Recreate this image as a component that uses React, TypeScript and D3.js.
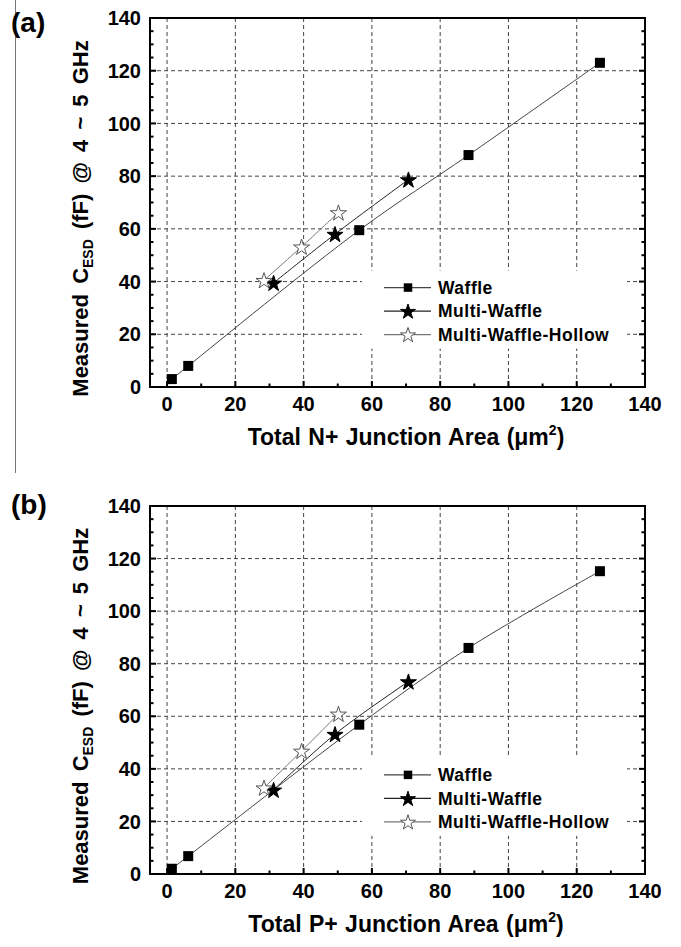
import React, { useEffect, useRef } from 'react';
import * as d3 from 'd3';

// junction area (um^2) for each structure, shared by both panels
const areaWaffle = [1.4, 6.2, 56.3, 88.3, 126.8];
const areaMulti = [31.2, 49.2, 70.7];
const areaHollow = [28.4, 39.4, 50.2];

// (a) N+ junction capacitance, fF
const capNWaffle = [3, 8, 59.5, 88, 123];
const capNMulti = [39.5, 58, 78.7];
const capNHollow = [40.5, 53.2, 66.2];

// (b) P+ junction capacitance, fF
const capPWaffle = [2, 6.8, 56.8, 86, 115.2];
const capPMulti = [32, 53.2, 73.2];
const capPHollow = [32.8, 46.8, 60.9];

const axisTicks = [0, 20, 40, 60, 80, 100, 120, 140];
const seriesNames = ['Waffle', 'Multi-Waffle', 'Multi-Waffle-Hollow'];

const FONT = "'Liberation Sans', Arial, sans-serif";

const App = () => {
    const ref = useRef<SVGSVGElement>(null);

    useEffect(() => {
        drawChart();
    }, []);

    const drawChart = () => {
        const svg = d3.select(ref.current);
        svg.selectAll('*').remove();

        // stray border line at the left of the scan
        svg.append('line')
            .attr('x1', 15.5).attr('x2', 15.5)
            .attr('y1', 0).attr('y2', 473)
            .attr('stroke', '#777').attr('stroke-width', 1);

        const panels = [
            { tag: '(a)', tagY: 32, top: 18, bottom: 387, label: 'Total N+ Junction Area (\u03bcm', ys: [capNWaffle, capNMulti, capNHollow] },
            { tag: '(b)', tagY: 514, top: 506, bottom: 874, label: 'Total P+ Junction Area (\u03bcm', ys: [capPWaffle, capPMulti, capPHollow] },
        ];

        panels.forEach(p => drawPanel(svg, p));
    };

    const drawPanel = (svg, p) => {
        const x = d3.scaleLinear().domain([-5, 140]).range([150, 645]);
        const y = d3.scaleLinear().domain([0, 140]).range([p.bottom, p.top]);
        const g = svg.append('g');
        const [x0, x1] = x.range();
        const [y0, y1] = [p.bottom, p.top];

        // grid
        g.selectAll('.vgrid')
            .data(axisTicks.filter(t => t < 140))
            .enter().append('line')
            .attr('x1', d => x(d)).attr('x2', d => x(d))
            .attr('y1', y1).attr('y2', y0)
            .attr('stroke', '#444').attr('stroke-width', 1)
            .attr('stroke-dasharray', '4,3');
        g.selectAll('.hgrid')
            .data(axisTicks.filter(t => t > 0 && t < 140))
            .enter().append('line')
            .attr('x1', x0).attr('x2', x1)
            .attr('y1', d => y(d)).attr('y2', d => y(d))
            .attr('stroke', '#444').attr('stroke-width', 1)
            .attr('stroke-dasharray', '4,3');

        // legend background hides the grid
        const ly = y(40) - 11;
        g.append('rect')
            .attr('x', 362).attr('y', ly)
            .attr('width', 265).attr('height', 78)
            .attr('fill', 'white');

        // ticks (inward on left, right, bottom)
        const yMinor = d3.range(0, 141, 5);
        const xMinor = d3.range(0, 141, 10);
        yMinor.forEach(t => {
            const len = t % 20 === 0 ? 6 : 3.5;
            g.append('line').attr('x1', x0).attr('x2', x0 + len)
                .attr('y1', y(t)).attr('y2', y(t)).attr('stroke', '#000').attr('stroke-width', 2);
            g.append('line').attr('x1', x1).attr('x2', x1 - len)
                .attr('y1', y(t)).attr('y2', y(t)).attr('stroke', '#000').attr('stroke-width', 2);
        });
        xMinor.forEach(t => {
            const len = t % 20 === 0 ? 6 : 3.5;
            g.append('line').attr('x1', x(t)).attr('x2', x(t))
                .attr('y1', y0).attr('y2', y0 - len).attr('stroke', '#000').attr('stroke-width', 2);
        });

        // frame
        g.append('rect')
            .attr('x', x0).attr('y', y1)
            .attr('width', x1 - x0).attr('height', y0 - y1)
            .attr('fill', 'none').attr('stroke', '#000').attr('stroke-width', 2);

        // tick labels
        g.selectAll('.ylab').data(axisTicks).enter().append('text')
            .attr('x', 141).attr('y', d => y(d)).attr('dy', '0.36em')
            .attr('text-anchor', 'end')
            .style('font', `bold 20px ${FONT}`)
            .text(d => d);
        g.selectAll('.xlab').data(axisTicks).enter().append('text')
            .attr('x', d => x(d)).attr('y', y0 + 24)
            .attr('text-anchor', 'middle')
            .style('font', `bold 20px ${FONT}`)
            .text(d => d);

        // axis titles
        const xt = g.append('text')
            .attr('x', 406).attr('y', y0 + 58)
            .attr('text-anchor', 'middle')
            .style('font', `bold 23px ${FONT}`)
            .style('word-spacing', '1px');
        xt.append('tspan').text(p.label);
        xt.append('tspan').attr('dy', -10).style('font-size', '14px').text('2');
        xt.append('tspan').attr('dy', 10).text(')');

        const cy = (y0 + y1) / 2 + 16;
        const yt = g.append('text')
            .attr('transform', `translate(88,${cy}) rotate(-90)`)
            .attr('text-anchor', 'middle')
            .style('font', `bold 22px ${FONT}`)
            .style('word-spacing', '4px');
        yt.append('tspan').text('Measured C');
        yt.append('tspan').attr('dy', 5).style('font-size', '14px').text('ESD');
        yt.append('tspan').attr('dy', -5).text(' (fF) @ 4 ~ 5 GHz');

        g.append('text')
            .attr('x', 11).attr('y', p.tagY)
            .style('font', `bold 28px ${FONT}`)
            .text(p.tag);

        // series
        const xs = [areaWaffle, areaMulti, areaHollow];
        const lineColors = ['#444', '#222', '#777'];
        const line = d3.line<number[]>()
            .x(d => x(d[0])).y(d => y(d[1]))
            .curve(d3.curveCatmullRom.alpha(0.5));
        const star = d3.symbol().type(d3.symbolStar).size(80);

        xs.forEach((xv, i) => {
            const pts = xv.map((v, k) => [v, p.ys[i][k]]);
            g.append('path')
                .attr('d', line(pts))
                .attr('fill', 'none')
                .attr('stroke', lineColors[i]).attr('stroke-width', 1);
        });
        xs.forEach((xv, i) => {
            const pts = xv.map((v, k) => [v, p.ys[i][k]]);
            pts.forEach(d => drawMarker(g, i, x(d[0]), y(d[1]), 10, star));
        });

        // legend
        const legendStar = d3.symbol().type(d3.symbolStar).size(70);
        seriesNames.forEach((name, i) => {
            const ry = ly + 17 + i * 23.5;
            g.append('line')
                .attr('x1', 384).attr('x2', 431)
                .attr('y1', ry).attr('y2', ry)
                .attr('stroke', lineColors[i]).attr('stroke-width', 1.2);
            drawMarker(g, i, 408, ry, 8.5, legendStar);
            g.append('text')
                .attr('x', 438).attr('y', ry).attr('dy', '0.36em')
                .style('font', `bold 17.5px ${FONT}`)
                .style('letter-spacing', '0.5px')
                .text(name);
        });
    };

    const drawMarker = (g, i, cx, cy, size, star) => {
        if (i === 0) {
            g.append('rect')
                .attr('x', cx - size / 2).attr('y', cy - size / 2)
                .attr('width', size).attr('height', size)
                .attr('fill', '#000');
        } else {
            g.append('path')
                .attr('d', star())
                .attr('transform', `translate(${cx},${cy + 0.8})`)
                .attr('fill', i === 1 ? '#000' : '#fff')
                .attr('stroke', i === 1 ? '#000' : '#555')
                .attr('stroke-width', 1);
        }
    };

    return <svg ref={ref} width={681} height={947}
        style={{ position: 'absolute', left: 0, top: 0, background: 'white' }}></svg>;
};

export default App;
